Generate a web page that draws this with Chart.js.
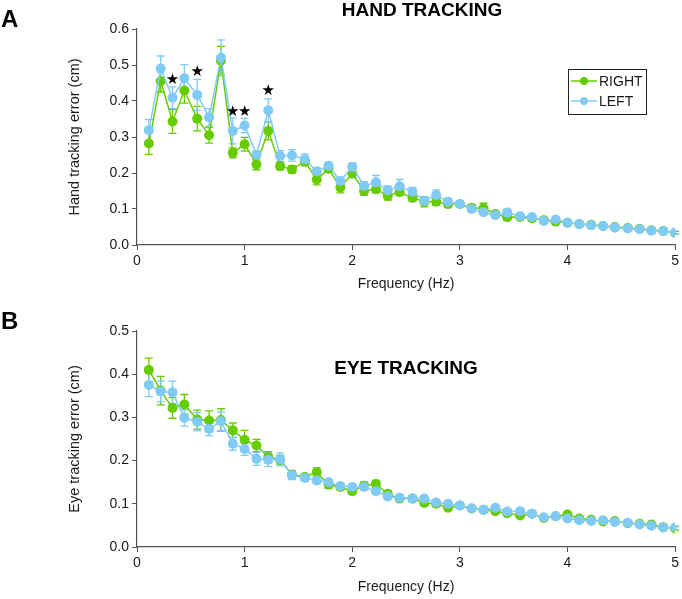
<!DOCTYPE html>
<html>
<head>
<meta charset="utf-8">
<script src="https://cdn.jsdelivr.net/npm/chart.js@4.4.1/dist/chart.umd.min.js"></script>
<style>
  html, body { margin: 0; padding: 0; background: #fff; }
  #wrap { position: relative; width: 682px; height: 599px; }
  canvas { position: absolute; left: 0; }
  #hand-chart { top: 0; }
  #eye-chart { top: 300px; }
</style>
</head>
<body>
<div id="wrap">
  <canvas id="hand-chart" width="682" height="300"></canvas>
  <canvas id="eye-chart" width="682" height="299"></canvas>
</div>
<script>
const frequencies = [
  0.11, 0.22, 0.33, 0.44, 0.56, 0.67, 0.78, 0.89, 1.00,
  1.11, 1.22, 1.33, 1.44, 1.56, 1.67, 1.78, 1.89, 2.00,
  2.11, 2.22, 2.33, 2.44, 2.56, 2.67, 2.78, 2.89, 3.00,
  3.11, 3.22, 3.33, 3.44, 3.56, 3.67, 3.78, 3.89, 4.00,
  4.11, 4.22, 4.33, 4.44, 4.56, 4.67, 4.78, 4.89, 5.00,
];
const seriesLabels = ['RIGHT', 'LEFT'];
const xTicks = [0, 1, 2, 3, 4, 5];

const handRight = [
  0.282, 0.455, 0.343, 0.429, 0.351, 0.305, 0.512, 0.256, 0.280,
  0.224, 0.317, 0.219, 0.210, 0.232, 0.182, 0.212, 0.160, 0.199,
  0.150, 0.155, 0.137, 0.147, 0.131, 0.120, 0.120, 0.114, 0.114,
  0.103, 0.102, 0.086, 0.077, 0.078, 0.074, 0.069, 0.065, 0.062,
  0.058, 0.056, 0.053, 0.050, 0.047, 0.045, 0.041, 0.039, 0.034,
];
const handLeft = [
  0.319, 0.490, 0.409, 0.463, 0.417, 0.355, 0.520, 0.317, 0.332,
  0.251, 0.374, 0.247, 0.249, 0.238, 0.205, 0.220, 0.178, 0.217,
  0.164, 0.174, 0.152, 0.163, 0.148, 0.123, 0.139, 0.120, 0.114,
  0.100, 0.091, 0.083, 0.090, 0.080, 0.078, 0.067, 0.071, 0.062,
  0.058, 0.055, 0.053, 0.048, 0.046, 0.044, 0.040, 0.039, 0.035,
];
const handRightErr = [
  0.030, 0.030, 0.033, 0.035, 0.034, 0.022, 0.040, 0.014, 0.019,
  0.015, 0.025, 0.010, 0.010, 0.012, 0.015, 0.010, 0.015, 0.012,
  0.012, 0.010, 0.012, 0.010, 0.010, 0.014, 0.010, 0.010, 0.008,
  0.010, 0.014, 0.008, 0.008, 0.007, 0.007, 0.006, 0.006, 0.006,
  0.005, 0.005, 0.005, 0.005, 0.004, 0.004, 0.004, 0.004, 0.004,
];
const handLeftErr = [
  0.030, 0.035, 0.030, 0.038, 0.043, 0.024, 0.050, 0.036, 0.020,
  0.010, 0.032, 0.015, 0.016, 0.015, 0.010, 0.010, 0.010, 0.011,
  0.012, 0.019, 0.012, 0.019, 0.012, 0.010, 0.014, 0.010, 0.008,
  0.008, 0.008, 0.007, 0.010, 0.008, 0.007, 0.007, 0.006, 0.006,
  0.005, 0.005, 0.005, 0.005, 0.004, 0.004, 0.004, 0.004, 0.004,
];
// significance stars (index into frequencies, height in cm)
const handStarIndex = [2, 4, 7, 8, 10];
const handStarY = [0.459, 0.480, 0.369, 0.369, 0.427];
const handYTicks = [0, 0.1, 0.2, 0.3, 0.4, 0.5, 0.6];

const eyeRight = [
  0.410, 0.362, 0.322, 0.330, 0.295, 0.293, 0.294, 0.270, 0.248,
  0.235, 0.208, 0.202, 0.168, 0.162, 0.173, 0.144, 0.139, 0.129,
  0.142, 0.146, 0.123, 0.112, 0.112, 0.102, 0.100, 0.091, 0.096,
  0.089, 0.086, 0.083, 0.078, 0.073, 0.077, 0.067, 0.071, 0.075,
  0.066, 0.063, 0.059, 0.060, 0.055, 0.054, 0.052, 0.046, 0.043,
];
const eyeLeft = [
  0.375, 0.360, 0.358, 0.299, 0.290, 0.273, 0.291, 0.239, 0.227,
  0.204, 0.202, 0.203, 0.166, 0.160, 0.154, 0.150, 0.141, 0.139,
  0.139, 0.129, 0.117, 0.114, 0.112, 0.112, 0.103, 0.100, 0.096,
  0.089, 0.086, 0.091, 0.082, 0.083, 0.077, 0.069, 0.071, 0.066,
  0.062, 0.060, 0.062, 0.058, 0.056, 0.052, 0.049, 0.045, 0.045,
];
const eyeRightErr = [
  0.027, 0.033, 0.024, 0.023, 0.022, 0.022, 0.026, 0.017, 0.022,
  0.014, 0.013, 0.010, 0.008, 0.007, 0.010, 0.008, 0.007, 0.007,
  0.008, 0.008, 0.007, 0.006, 0.006, 0.006, 0.006, 0.006, 0.005,
  0.005, 0.005, 0.005, 0.005, 0.005, 0.005, 0.005, 0.005, 0.005,
  0.004, 0.004, 0.004, 0.004, 0.004, 0.004, 0.004, 0.004, 0.004,
];
const eyeLeftErr = [
  0.027, 0.024, 0.026, 0.019, 0.021, 0.015, 0.021, 0.015, 0.015,
  0.015, 0.016, 0.015, 0.010, 0.008, 0.007, 0.007, 0.006, 0.006,
  0.006, 0.006, 0.006, 0.006, 0.005, 0.005, 0.005, 0.005, 0.005,
  0.005, 0.005, 0.005, 0.005, 0.005, 0.005, 0.005, 0.005, 0.005,
  0.004, 0.004, 0.004, 0.004, 0.004, 0.004, 0.004, 0.004, 0.004,
];
const eyeYTicks = [0, 0.1, 0.2, 0.3, 0.4, 0.5];

const GREEN = '#66cc00';
const BLUE = '#80cbf5';
const AXIS = '#555555';
const TEXT = '#1a1a1a';
const FONT = '"Liberation Sans", Arial, Helvetica, sans-serif';

const toPoints = (ys) => ys.map((y, i) => ({ x: frequencies[i], y }));

// vertical error bars with caps, drawn under the points
const errorBars = {
  id: 'errorBars',
  beforeDatasetsDraw(chart) {
    const { ctx, scales: { x, y } } = chart;
    chart.data.datasets.forEach((ds, di) => {
      if (!chart.isDatasetVisible(di)) return;
      ctx.save();
      ctx.strokeStyle = ds.borderColor;
      ctx.lineWidth = 1.3;
      ds.data.forEach((p, i) => {
        const e = ds.errors[i];
        const px = x.getPixelForValue(p.x);
        const top = y.getPixelForValue(p.y + e);
        const bot = y.getPixelForValue(p.y - e);
        ctx.beginPath();
        ctx.moveTo(px, top); ctx.lineTo(px, bot);
        ctx.moveTo(px - 4, top); ctx.lineTo(px + 4, top);
        ctx.moveTo(px - 4, bot); ctx.lineTo(px + 4, bot);
        ctx.stroke();
      });
      ctx.restore();
    });
  },
};

// panel letter, panel title, stars and the boxed legend
const annotations = {
  id: 'annotations',
  afterDraw(chart, args, opts) {
    const { ctx, scales: { x, y } } = chart;
    ctx.save();
    ctx.fillStyle = '#000';
    ctx.textBaseline = 'middle';
    ctx.font = `bold 24px ${FONT}`;
    ctx.textAlign = 'left';
    ctx.fillText(opts.letter, 1, opts.letterY);
    ctx.font = `bold 19px ${FONT}`;
    ctx.textAlign = 'center';
    ctx.fillText(opts.title, opts.titleX, opts.titleY);

    if (opts.starIndex) {
      ctx.font = `15px "DejaVu Sans", sans-serif`;
      opts.starIndex.forEach((idx, k) => {
        ctx.fillText('\u2605', x.getPixelForValue(frequencies[idx]), y.getPixelForValue(opts.starY[k]));
      });
    }

    if (opts.legend) {
      const { left, top, width, height } = opts.legend;
      ctx.strokeStyle = '#222';
      ctx.lineWidth = 1;
      ctx.strokeRect(left + 0.5, top + 0.5, width, height);
      ctx.font = `14px ${FONT}`;
      ctx.textAlign = 'left';
      chart.data.datasets.forEach((ds, i) => {
        const cy = top + 12 + i * 20;
        ctx.strokeStyle = ds.borderColor;
        ctx.lineWidth = 1.5;
        ctx.beginPath();
        ctx.moveTo(left + 3, cy); ctx.lineTo(left + 29, cy);
        ctx.stroke();
        ctx.fillStyle = ds.borderColor;
        ctx.beginPath();
        ctx.arc(left + 16, cy, 4, 0, Math.PI * 2);
        ctx.fill();
        ctx.fillStyle = TEXT;
        ctx.fillText(ds.label, left + 31, cy + 1);
      });
    }
    ctx.restore();
  },
};

function makeChart(id, cfg) {
  const dataset = (label, color, values, errors) => ({
    label,
    data: toPoints(values),
    errors,
    borderColor: color,
    backgroundColor: color,
    borderWidth: 1.5,
    pointRadius: 5,
    pointBorderWidth: 0,
    showLine: true,
  });

  return new Chart(document.getElementById(id), {
    type: 'scatter',
    data: {
      datasets: [
        // LEFT drawn on top of RIGHT
        { ...dataset(seriesLabels[0], GREEN, cfg.right, cfg.rightErr), order: 2 },
        { ...dataset(seriesLabels[1], BLUE, cfg.left, cfg.leftErr), order: 1 },
      ],
    },
    options: {
      responsive: false,
      animation: false,
      layout: { padding: { top: cfg.top, right: 2, left: 0, bottom: 0 } },
      plugins: {
        legend: { display: false },
        tooltip: { enabled: false },
        annotations: cfg.annotations,
      },
      scales: {
        x: {
          type: 'linear',
          min: 0,
          max: 5,
          afterBuildTicks: (scale) => { scale.ticks = xTicks.map((v) => ({ value: v })); },
          afterFit: (scale) => { scale.height = cfg.xHeight; },
          border: { color: AXIS, width: 1.2 },
          grid: { drawOnChartArea: false, drawTicks: true, tickLength: 5, color: AXIS },
          ticks: { color: TEXT, font: { family: FONT, size: 14 }, padding: 3 },
          title: { display: true, text: 'Frequency (Hz)', color: TEXT, font: { family: FONT, size: 14 }, padding: { top: 0, bottom: cfg.xTitlePad } },
        },
        y: {
          type: 'linear',
          min: 0,
          max: cfg.yMax,
          afterBuildTicks: (scale) => { scale.ticks = cfg.yTicks.map((v) => ({ value: v })); },
          afterFit: (scale) => { scale.width = 137; },
          border: { color: AXIS, width: 1.2 },
          grid: { drawOnChartArea: false, drawTicks: true, tickLength: 5, color: AXIS },
          ticks: { color: TEXT, font: { family: FONT, size: 14 }, padding: 3, callback: (v) => Number(v).toFixed(1) },
          title: { display: true, text: cfg.yTitle, color: TEXT, font: { family: FONT, size: 14.5 }, padding: { top: 66, bottom: 0 } },
        },
      },
    },
    plugins: [errorBars, annotations],
  });
}

makeChart('hand-chart', {
  right: handRight, left: handLeft, rightErr: handRightErr, leftErr: handLeftErr,
  yMax: 0.6, yTicks: handYTicks, yTitle: 'Hand tracking error (cm)',
  top: 29, xHeight: 55, xTitlePad: 7,
  annotations: {
    letter: 'A', letterY: 20, title: 'HAND TRACKING', titleX: 422, titleY: 11,
    starIndex: handStarIndex, starY: handStarY,
    legend: { left: 568, top: 69, width: 78, height: 45 },
  },
});

makeChart('eye-chart', {
  right: eyeRight, left: eyeLeft, rightErr: eyeRightErr, leftErr: eyeLeftErr,
  yMax: 0.5, yTicks: eyeYTicks, yTitle: 'Eye tracking error (cm)',
  top: 31, xHeight: 52, xTitlePad: 3,
  annotations: {
    letter: 'B', letterY: 22, title: 'EYE TRACKING', titleX: 406, titleY: 69,
  },
});
</script>
</body>
</html>
